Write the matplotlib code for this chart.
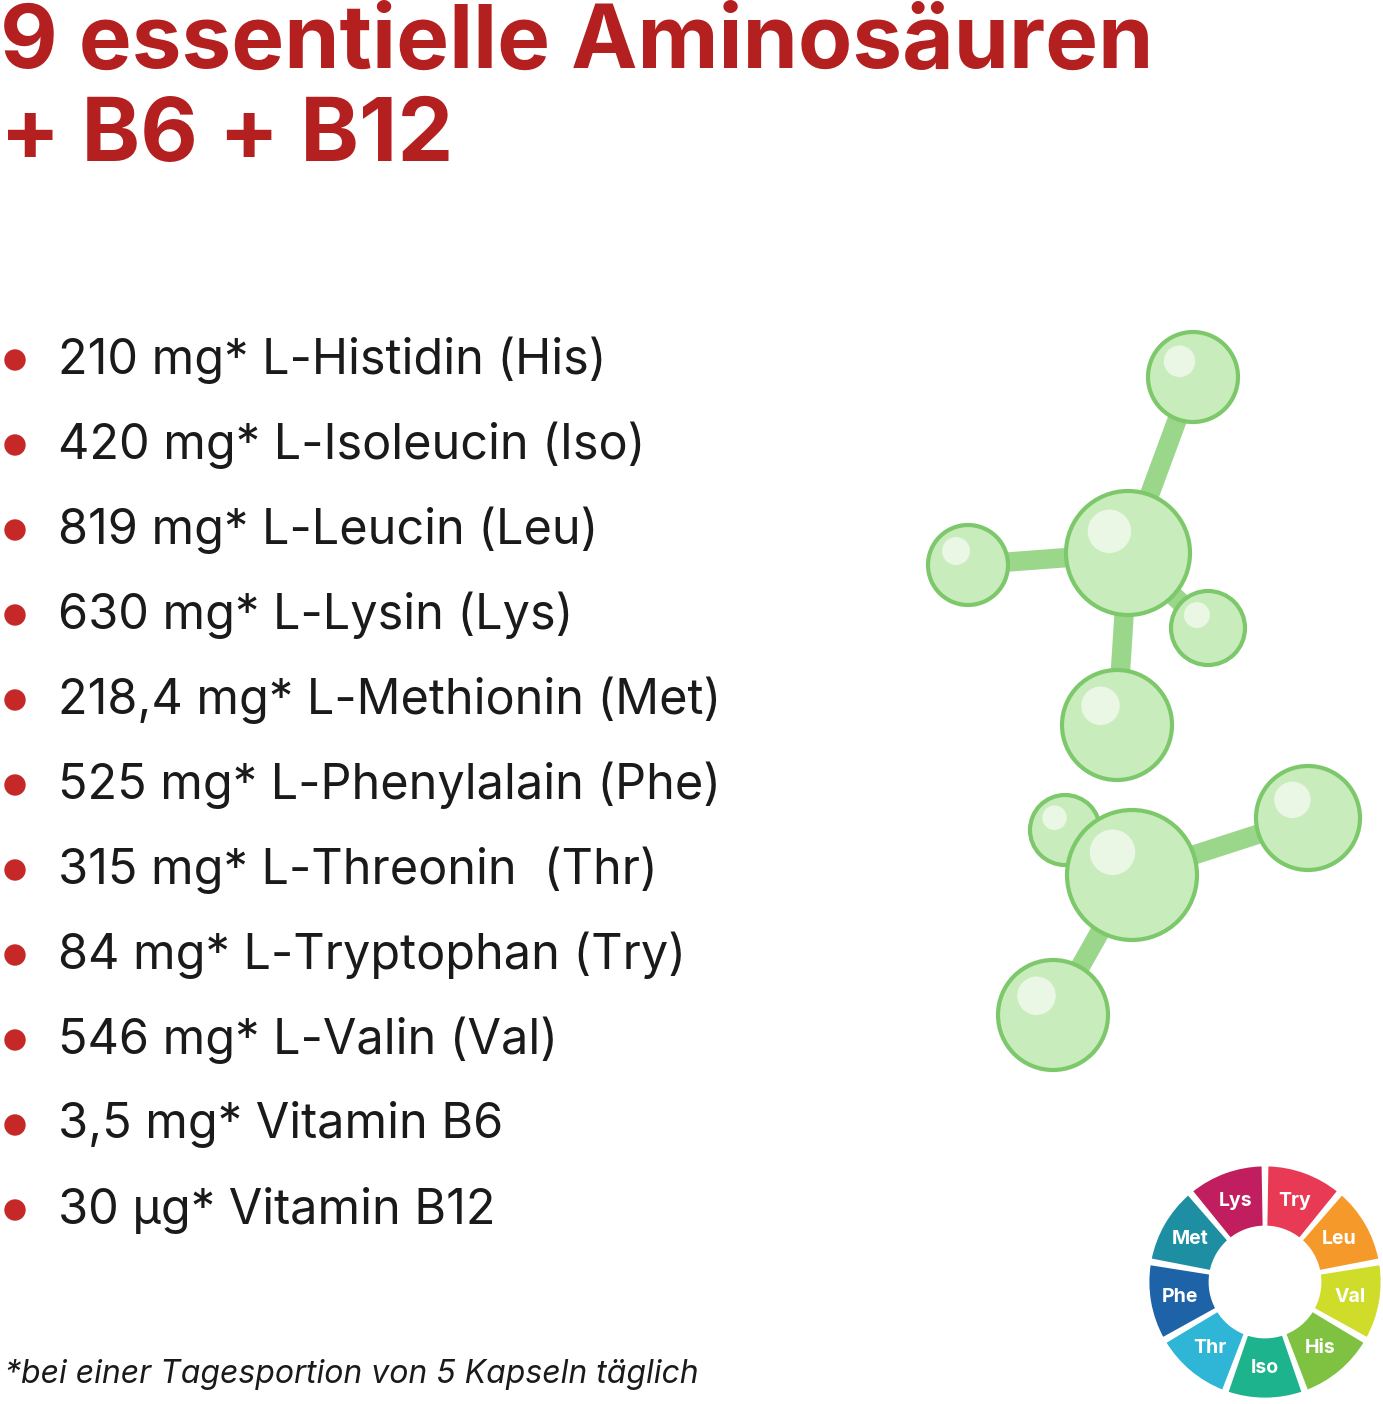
import numpy as np
import matplotlib.pyplot as plt
from matplotlib.patches import Wedge, Circle

plt.rcParams['font.family'] = ['Inter', 'DejaVu Sans']

title_lines = ["9 essentielle Aminosäuren", "+ B6 + B12"]
items = ["210 mg* L-Histidin (His)", "420 mg* L-Isoleucin (Iso)", "819 mg* L-Leucin (Leu)",
         "630 mg* L-Lysin (Lys)", "218,4 mg* L-Methionin (Met)", "525 mg* L-Phenylalain (Phe)",
         "315 mg* L-Threonin  (Thr)", "84 mg* L-Tryptophan (Try)", "546 mg* L-Valin (Val)",
         "3,5 mg* Vitamin B6", "30 µg* Vitamin B12"]
footer = "*bei einer Tagesportion von 5 Kapseln täglich"

wheel_labels = ["Try", "Leu", "Val", "His", "Iso", "Thr", "Phe", "Met", "Lys"]
wheel_angles = [70, 30, -10, -50, -90, -130, -170, 150, 110]
wheel_colors = ["#e83a55", "#f59a2a", "#cfdc2a", "#7fc241", "#1db38c",
                "#2fb5d6", "#1e63a8", "#1e8fa3", "#c01e5e"]

# molecule atoms (x, y, r) and bonds
atoms_x = [1193, 1128, 968, 1208, 1117, 1065, 1132, 1308, 1053]
atoms_y = [377, 553, 565, 628, 725, 830, 875, 818, 1015]
atoms_r = [45, 62, 40, 37, 55, 35, 65, 52, 55]
bonds = [(0, 1), (1, 2), (1, 3), (1, 4), (6, 7), (6, 8), (5, 6)]

fig = plt.figure(figsize=(13.83, 14.04), dpi=100)
ax = fig.add_axes([0, 0, 1, 1])
ax.set_xlim(0, 1383)
ax.set_ylim(1404, 0)
ax.axis('off')
ax.set_aspect('equal')

red = "#b3201f"
for i, t in enumerate(title_lines):
    ax.text(0, 45 + i * 93, t, fontsize=64, fontweight='bold', color=red, va='center', ha='left')

for i, t in enumerate(items):
    y = 360 + i * 85
    ax.add_patch(Circle((15, y), 10, color="#c62828"))
    ax.text(58, y, t, fontsize=35, color="#1a1a1a", va='center', ha='left')

ax.text(5, 1375, footer, fontsize=23, style='italic', color="#1a1a1a", va='center', ha='left')

# molecule
for a, b in bonds:
    ax.plot([atoms_x[a], atoms_x[b]], [atoms_y[a], atoms_y[b]], color="#8fd37f", lw=14,
            solid_capstyle='round', zorder=1, alpha=0.9)
for x, y, r in zip(atoms_x, atoms_y, atoms_r):
    ax.add_patch(Circle((x, y), r, facecolor="#c9ecbd", edgecolor="#7cc86a", lw=3, zorder=2))
    ax.add_patch(Circle((x - r * 0.3, y - r * 0.35), r * 0.35, facecolor="white", alpha=0.6,
                        lw=0, zorder=3))

# wheel (y axis inverted, so negate angles)
cx, cy = 1265, 1282
for lab, ang, col in zip(wheel_labels, wheel_angles, wheel_colors):
    ax.add_patch(Wedge((cx, cy), 117, -ang - 19, -ang + 19, width=62, facecolor=col,
                       edgecolor="white", lw=2))
    rad = np.deg2rad(ang)
    ax.text(cx + 86 * np.cos(rad), cy - 86 * np.sin(rad), lab, fontsize=14, fontweight='bold',
            color="white", ha='center', va='center')

fig.savefig("out.png", dpi=100)
